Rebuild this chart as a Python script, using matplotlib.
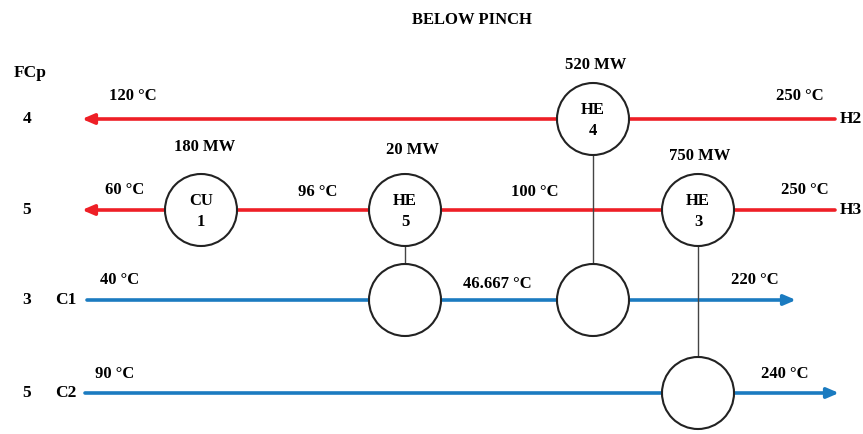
import matplotlib
matplotlib.use("Agg")
import matplotlib.pyplot as plt
from matplotlib.patches import Circle

# stream data
streams = ["H2", "H3", "C1", "C2"]
fcp = [4, 5, 3, 5]
t_in = ["250 °C", "250 °C", "40 °C", "90 °C"]
t_out = ["120 °C", "60 °C", "220 °C", "240 °C"]
hot = [True, True, False, False]

# units: label, number, duty, hot stream, cold stream (None for utility)
units = ["HE", "CU", "HE", "HE"]
unit_no = [4, 1, 5, 3]
duties = ["520 MW", "180 MW", "20 MW", "750 MW"]
unit_hot = ["H2", "H3", "H3", "H3"]
unit_cold = ["C1", None, "C1", "C2"]

# intermediate temperatures
mid_temps = ["96 °C", "100 °C", "46.667 °C"]

# layout (pixel coords)
row_y = {"H2": 119, "H3": 210, "C1": 300, "C2": 393}
unit_x = [593, 201, 405, 698]
R = 36
red = "#ee1f26"
blue = "#1b7bc0"

plt.rcParams["font.family"] = ["Liberation Serif", "DejaVu Serif"]
plt.rcParams["font.weight"] = "bold"
fs = 12

fig = plt.figure(figsize=(8.63, 4.34), dpi=100)
ax = fig.add_axes([0, 0, 1, 1])
ax.set_xlim(0, 863)
ax.set_ylim(434, 0)
ax.axis("off")

ax.text(472, 20, "BELOW PINCH", ha="center", va="center", fontsize=fs)
ax.text(30, 73, "FCp", ha="center", va="center", fontsize=fs + 0.5)

arrow_kw = dict(arrowstyle="-|>,head_length=0.7,head_width=0.3", lw=2.6,
                shrinkA=0, shrinkB=0, mutation_scale=10)
ends = {"H2": (835, 82), "H3": (835, 82), "C1": (87, 796), "C2": (85, 839)}
for s, f, h in zip(streams, fcp, hot):
    y = row_y[s]
    x0, x1 = ends[s]
    c = red if h else blue
    ax.annotate("", xy=(x1, y), xytext=(x0, y),
                arrowprops=dict(color=c, **arrow_kw), zorder=1)
    ax.text(27, y, str(f), ha="center", va="center", fontsize=fs + 0.5)
    if h:
        ax.text(851, y, s, ha="center", va="center", fontsize=fs + 0.5)
    else:
        ax.text(66, y, s, ha="center", va="center", fontsize=fs + 0.5)

# temperature labels
tin_pos = {"H2": (800, 96), "H3": (805, 190), "C1": (120, 280), "C2": (115, 374)}
tout_pos = {"H2": (133, 96), "H3": (125, 190), "C1": (755, 280), "C2": (785, 374)}
for s, a, b in zip(streams, t_in, t_out):
    ax.text(*tin_pos[s], a, ha="center", va="center", fontsize=fs)
    ax.text(*tout_pos[s], b, ha="center", va="center", fontsize=fs)
mid_pos = [(318, 192), (535, 192), (497, 284)]
for t, p in zip(mid_temps, mid_pos):
    ax.text(*p, t, ha="center", va="center", fontsize=fs)

duty_pos = [(596, 65), (205, 147), (412, 150), (700, 156)]
for u, n, d, hs, cs, x, dp in zip(units, unit_no, duties, unit_hot, unit_cold, unit_x, duty_pos):
    yh = row_y[hs]
    ax.add_patch(Circle((x, yh), R, facecolor="white", edgecolor="#222222", lw=1.5, zorder=3))
    ax.text(x, yh - 9, u, ha="center", va="center", fontsize=fs, zorder=4)
    ax.text(x, yh + 12, str(n), ha="center", va="center", fontsize=fs, zorder=4)
    ax.text(*dp, d, ha="center", va="center", fontsize=fs)
    if cs is not None:
        yc = row_y[cs]
        ax.add_patch(Circle((x, yc), R, facecolor="white", edgecolor="#222222", lw=1.5, zorder=3))
        ax.plot([x, x], [yh + R, yc - R], color="#444444", lw=1, zorder=2)

fig.savefig("out.png", dpi=100)
